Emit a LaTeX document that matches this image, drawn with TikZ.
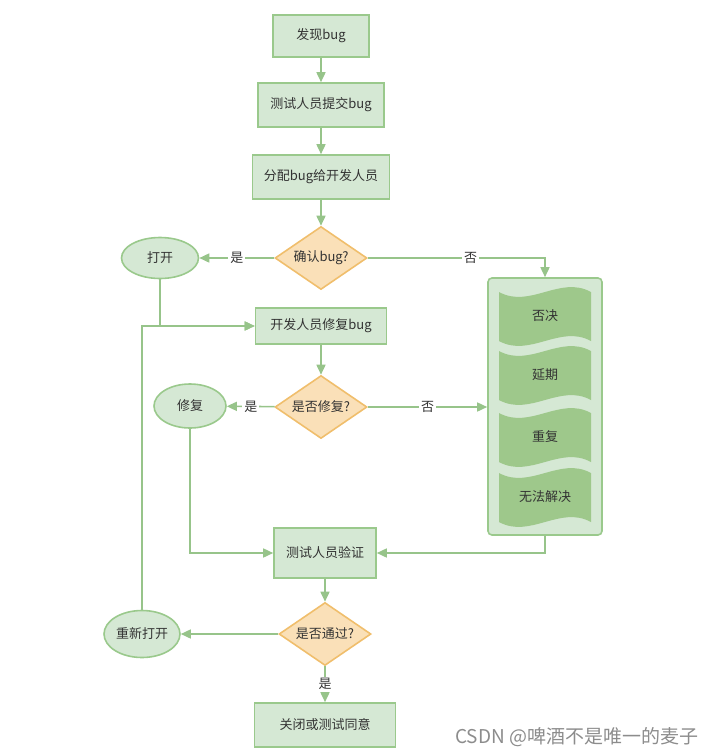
\documentclass[tikz,border=0pt]{standalone}
\usepackage{fontspec}
\setmainfont{Noto Sans CJK SC}
\usetikzlibrary{arrows.meta,shapes.geometric}
\definecolor{boxfill}{HTML}{D5E8D4}
\definecolor{boxline}{HTML}{9AC98C}
\definecolor{arrcol}{HTML}{97C48A}
\definecolor{dfill}{HTML}{FAE0B8}
\definecolor{dline}{HTML}{F0BE6C}
\definecolor{wavefill}{HTML}{9EC88B}
\definecolor{txt}{HTML}{333333}
\tikzset{
  proc/.style={draw=boxline, fill=boxfill, line width=1.6pt, inner sep=0pt, text=txt},
  dia/.style={diamond, draw=dline, fill=dfill, line width=1.6pt, inner sep=0pt, aspect=1.45, minimum width=92, minimum height=63, text=txt},
  oval/.style={ellipse, draw=boxline, fill=boxfill, line width=1.6pt, inner sep=0pt, text=txt},
  arr/.style={draw=arrcol, line width=1.6pt, -{Triangle[length=10pt,width=9pt]}},
  lbl/.style={fill=white, inner sep=2pt, text=txt},
  plain/.style={inner sep=0pt, text=txt}
}
\begin{document}
\begin{tikzpicture}[x=1pt,y=-1pt, font=\fontsize{13pt}{15pt}\selectfont]
\useasboundingbox (0,0) rectangle (720,756);

% main boxes
\node[proc, minimum width=96, minimum height=42] (n1) at (321,36) {发现bug};
\node[proc, minimum width=126, minimum height=44] (n2) at (321,105) {测试人员提交bug};
\node[proc, minimum width=137, minimum height=44] (n3) at (321,177) {分配bug给开发人员};
\node[dia] (d1) at (321,258) {确认bug?};
\node[oval, minimum width=77, minimum height=41] (open) at (160,258) {打开};
\node[proc, minimum width=131, minimum height=36] (fix) at (321,326) {开发人员修复bug};
\node[dia] (d2) at (321,407) {是否修复?};
\node[oval, minimum width=72, minimum height=44] (fixed) at (190,406) {修复};
\node[proc, minimum width=102, minimum height=50] (verify) at (325,553) {测试人员验证};
\node[dia] (d3) at (325,634) {是否通过?};
\node[oval, minimum width=76, minimum height=47] (reopen) at (142,634) {重新打开};
\node[proc, minimum width=141, minimum height=44] (close) at (325,725) {关闭或测试同意};

% rejection container
\node[proc, rounded corners=4pt, minimum width=114, minimum height=257] (rej) at (545,406.5) {};
\foreach \t/\b in {292/341, 351/400, 413/462, 473/522}{
  \fill[wavefill] (499,\t) .. controls (530,\t+17) and (560,\t-17) .. (591,\t)
     -- (591,\b) .. controls (560,\b-17) and (530,\b+17) .. (499,\b) -- cycle;
}
\node[plain] (s1) at (545,316) {否决};
\node[plain] (s2) at (545,375) {延期};
\node[plain] (s3) at (545,437) {重复};
\node[plain] (s4) at (545,497) {无法解决};

% connectors
\draw[arr] (n1) -- (n2);
\draw[arr] (n2) -- (n3);
\draw[arr] (n3) -- (d1);
\draw[arr] (d1) -- node[lbl]{是} (open);
\draw[arr] (d1.east) -| node[lbl, pos=0.29]{否} (rej.north);
\draw[arr] (open.south) |- (fix.west);
\draw[arr] (reopen.north) |- (fix.west);
\draw[arr] (fix) -- (d2);
\draw[arr] (d2) -- node[lbl]{是} (fixed);
\draw[arr] (d2.east) -- node[lbl]{否} (d2.east -| rej.west);
\draw[arr] (fixed.south) |- (verify.west);
\draw[arr] (rej.south) |- (verify.east);
\draw[arr] (verify) -- (d3);
\draw[arr] (d3) -- (reopen);
\draw[arr] (d3) -- node[lbl]{是} (close);

% watermark
\node[anchor=west, inner sep=0pt, text=black!45, font=\fontsize{19pt}{21pt}\selectfont] (wm) at (455,737) {CSDN @啤酒不是唯一的麦子};
\end{tikzpicture}
\end{document}
